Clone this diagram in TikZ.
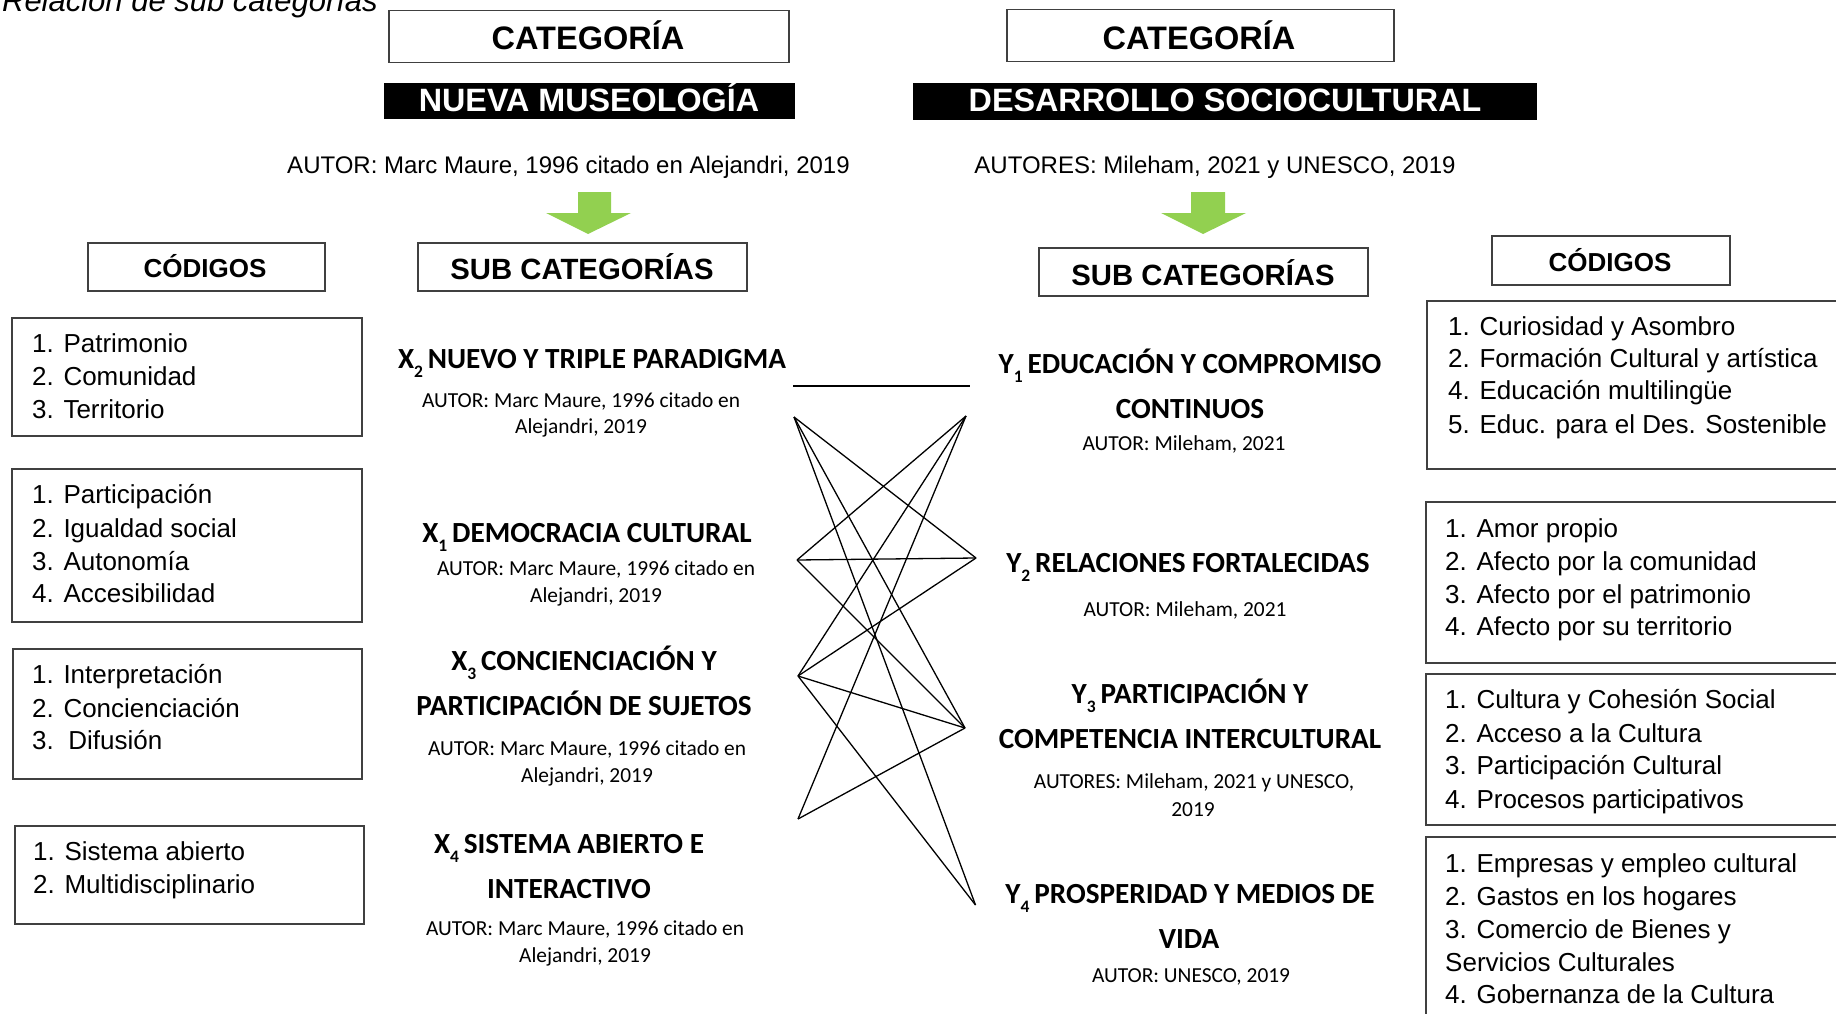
\documentclass[tikz,border=0pt]{standalone}
\usepackage{fontspec}
\setmainfont{Liberation Sans}
\newfontfamily\calibri{Carlito}
\definecolor{arrowgreen}{HTML}{92D050}
\definecolor{boxline}{HTML}{404040}
\newcommand\subsc[1]{\raisebox{-0.32em}{\fontsize{17.5}{17.5}\selectfont #1}}
\begin{document}
\begin{tikzpicture}[x=1pt,y=-1pt,
  boxst/.style={draw=boxline, line width=1.5pt, inner sep=0pt, anchor=north west},
  blackbox/.style={fill=black, inner sep=0pt, anchor=north west},
  cattxt/.style={anchor=base, inner sep=0pt, font=\bfseries\fontsize{32.5}{32.5}\selectfont},
  hdrtxt/.style={anchor=base, inner sep=0pt, font=\bfseries\fontsize{32.3}{32.3}\selectfont, text=white},
  autxt/.style={anchor=base, inner sep=0pt, font=\fontsize{24}{24}\selectfont},
  codhdr/.style={anchor=base, inner sep=0pt, font=\bfseries\fontsize{26}{26}\selectfont},
  subhdr/.style={anchor=base, inner sep=0pt, font=\bfseries\fontsize{29.3}{29.3}\selectfont},
  codetxt/.style={anchor=base west, inner sep=0pt, font=\fontsize{26}{26}\selectfont},
  subtitle/.style={anchor=base, inner sep=0pt, font=\calibri\bfseries\fontsize{29.2}{29.2}\selectfont},
  subauthor/.style={anchor=base, inner sep=0pt, font=\calibri\fontsize{21.4}{21.4}\selectfont},
  link/.style={line width=1.3pt, black},
  greenarrow/.style={fill=arrowgreen}
]
\useasboundingbox (0,0) rectangle (1836,1014);
\clip (0,0) rectangle (1836,1014);
\fill[white] (0,0) rectangle (1836,1014);

% caption
\node[anchor=base east, inner sep=0pt, font=\itshape\fontsize{31}{31}\selectfont] (caption) at (378,12) {Relación de sub categorías};

% category boxes
\node[boxst, minimum width=400pt, minimum height=52pt] (catL) at (388,10) {};
\node[cattxt] (catLt) at (588,50) {CATEGORÍA};
\node[boxst, minimum width=387pt, minimum height=52pt] (catR) at (1006,9) {};
\node[cattxt] (catRt) at (1199,50) {CATEGORÍA};

% black headers
\node[blackbox, minimum width=411pt, minimum height=36pt] (hdrL) at (384,83) {};
\node[hdrtxt] (hdrLt) at (589,112) {NUEVA MUSEOLOGÍA};
\node[blackbox, minimum width=624pt, minimum height=37pt] (hdrR) at (913,83) {};
\node[hdrtxt] (hdrRt) at (1225,112) {DESARROLLO SOCIOCULTURAL};

% authors
\node[autxt] (autL) at (568.5,173) {AUTOR: Marc Maure, 1996 citado en Alejandri, 2019};
\node[autxt] (autR) at (1215,173) {AUTORES: Mileham, 2021 y UNESCO, 2019};

% green arrows
\fill[greenarrow] (578,192) -- (611,192) -- (611,213) -- (631,213) -- (588,234) -- (546,213) -- (578,213) -- cycle;
\fill[greenarrow] (1191,192) -- (1225,192) -- (1225,213) -- (1246,213) -- (1203,234) -- (1161,213) -- (1191,213) -- cycle;

% column header boxes
\node[boxst, minimum width=237pt, minimum height=48pt] (codL) at (87,242) {};
\node[codhdr] (codLt) at (205,277) {CÓDIGOS};
\node[boxst, minimum width=329pt, minimum height=48pt] (subL) at (417,242) {};
\node[subhdr] (subLt) at (582,279) {SUB CATEGORÍAS};
\node[boxst, minimum width=329pt, minimum height=48pt] (subR) at (1038,247) {};
\node[subhdr] (subRt) at (1203,285) {SUB CATEGORÍAS};
\node[boxst, minimum width=238pt, minimum height=49pt] (codR) at (1491,235) {};
\node[codhdr] (codRt) at (1610,271) {CÓDIGOS};

% left code boxes
\node[boxst, minimum width=350pt, minimum height=118pt] (lb1) at (11,317) {};
\node[codetxt] (lb1a) at (32,352) {1. Patrimonio};
\node[codetxt] (lb1b) at (32,385) {2. Comunidad};
\node[codetxt] (lb1c) at (32,418) {3. Territorio};

\node[boxst, minimum width=350pt, minimum height=153pt] (lb2) at (11,468) {};
\node[codetxt] (lb2a) at (32,503) {1. Participación};
\node[codetxt] (lb2b) at (32,537) {2. Igualdad social};
\node[codetxt] (lb2c) at (32,570) {3. Autonomía};
\node[codetxt] (lb2d) at (32,602) {4. Accesibilidad};

\node[boxst, minimum width=349pt, minimum height=130pt] (lb3) at (12,648) {};
\node[codetxt] (lb3a) at (32,683) {1. Interpretación};
\node[codetxt] (lb3b) at (32,717) {2. Concienciación};
\node[codetxt] (lb3c) at (32,749) {3.\ \ Difusión};

\node[boxst, minimum width=349pt, minimum height=98pt] (lb4) at (14,825) {};
\node[codetxt] (lb4a) at (33,860) {1. Sistema abierto};
\node[codetxt] (lb4b) at (33,893) {2. Multidisciplinario};

% right code boxes
\node[boxst, minimum width=430pt, minimum height=168pt] (rb1) at (1426,300) {};
\node[codetxt] (rb1a) at (1448,335) {1. Curiosidad y Asombro};
\node[codetxt] (rb1b) at (1448,367) {2. Formación Cultural y artística};
\node[codetxt] (rb1c) at (1448,399) {4. Educación multilingüe};
\node[codetxt] (rb1d) at (1448,433) {5. Educ. para el Des. Sostenible};

\node[boxst, minimum width=430pt, minimum height=161pt] (rb2) at (1425,501) {};
\node[codetxt] (rb2a) at (1445,537) {1. Amor propio};
\node[codetxt] (rb2b) at (1445,570) {2. Afecto por la comunidad};
\node[codetxt] (rb2c) at (1445,603) {3. Afecto por el patrimonio};
\node[codetxt] (rb2d) at (1445,635) {4. Afecto por su territorio};

\node[boxst, minimum width=430pt, minimum height=151pt] (rb3) at (1425,673) {};
\node[codetxt] (rb3a) at (1445,708) {1. Cultura y Cohesión Social};
\node[codetxt] (rb3b) at (1445,742) {2. Acceso a la Cultura};
\node[codetxt] (rb3c) at (1445,774) {3. Participación Cultural};
\node[codetxt] (rb3d) at (1445,808) {4. Procesos participativos};

\node[boxst, minimum width=430pt, minimum height=200pt] (rb4) at (1425,836) {};
\node[codetxt] (rb4a) at (1445,872) {1. Empresas y empleo cultural};
\node[codetxt] (rb4b) at (1445,905) {2. Gastos en los hogares};
\node[codetxt] (rb4c) at (1445,938) {3. Comercio de Bienes y};
\node[codetxt] (rb4d) at (1445,971) {Servicios Culturales};
\node[codetxt] (rb4e) at (1445,1003) {4. Gobernanza de la Cultura};

% left sub categories
\node[subtitle] (x2t) at (592,368) {X\subsc{2}\,NUEVO Y TRIPLE PARADIGMA};
\node[subauthor] (x2a) at (581,407) {AUTOR: Marc Maure, 1996 citado en};
\node[subauthor] (x2b) at (581,433) {Alejandri, 2019};

\node[subtitle] (x1t) at (587,542) {X\subsc{1}\,DEMOCRACIA CULTURAL};
\node[subauthor] (x1a) at (596,575) {AUTOR: Marc Maure, 1996 citado en};
\node[subauthor] (x1b) at (596,602) {Alejandri, 2019};

\node[subtitle] (x3t) at (584,670) {X\subsc{3}\,CONCIENCIACIÓN Y};
\node[subtitle] (x3u) at (584,715) {PARTICIPACIÓN DE SUJETOS};
\node[subauthor] (x3a) at (587,755) {AUTOR: Marc Maure, 1996 citado en};
\node[subauthor] (x3b) at (587,782) {Alejandri, 2019};

\node[subtitle] (x4t) at (569,853) {X\subsc{4}\,SISTEMA ABIERTO E};
\node[subtitle] (x4u) at (569,898) {INTERACTIVO};
\node[subauthor] (x4a) at (585,935) {AUTOR: Marc Maure, 1996 citado en};
\node[subauthor] (x4b) at (585,962) {Alejandri, 2019};

% right sub categories
\node[subtitle] (y1t) at (1190,373) {Y\subsc{1}\,EDUCACIÓN Y COMPROMISO};
\node[subtitle] (y1u) at (1190,418) {CONTINUOS};
\node[subauthor] (y1a) at (1184,450) {AUTOR: Mileham, 2021};

\node[subtitle] (y2t) at (1188,572) {Y\subsc{2}\,RELACIONES FORTALECIDAS};
\node[subauthor] (y2a) at (1185,616) {AUTOR: Mileham, 2021};

\node[subtitle] (y3t) at (1190,703) {Y\subsc{3}\,PARTICIPACIÓN Y};
\node[subtitle] (y3u) at (1190,748) {COMPETENCIA INTERCULTURAL};
\node[subauthor] (y3a) at (1194,788) {AUTORES: Mileham, 2021 y UNESCO,};
\node[subauthor] (y3b) at (1193,816) {2019};

\node[subtitle] (y4t) at (1190,903) {Y\subsc{4}\,PROSPERIDAD Y MEDIOS DE};
\node[subtitle] (y4u) at (1189,948) {VIDA};
\node[subauthor] (y4a) at (1191,982) {AUTOR: UNESCO, 2019};

% connector end points
\coordinate (H1) at (793,386);
\coordinate (H2) at (970,386);
\coordinate (L1) at (794,417);
\coordinate (L2) at (797,560);
\coordinate (L3) at (798,676);
\coordinate (L4) at (798,819);
\coordinate (R1) at (966,416);
\coordinate (R2) at (976,558);
\coordinate (R3) at (965,728);
\coordinate (R4) at (975.5,905);

\draw[link] (H1) -- (H2);
\draw[link] (L1) -- (R2);
\draw[link] (L1) -- (R3);
\draw[link] (L1) -- (R4);
\draw[link] (L2) -- (R1);
\draw[link] (L2) -- (R2);
\draw[link] (L2) -- (R3);
\draw[link] (L3) -- (R1);
\draw[link] (L3) -- (R2);
\draw[link] (L3) -- (R3);
\draw[link] (L3) -- (R4);
\draw[link] (L4) -- (R1);
\draw[link] (L4) -- (R3);
\end{tikzpicture}
\end{document}
